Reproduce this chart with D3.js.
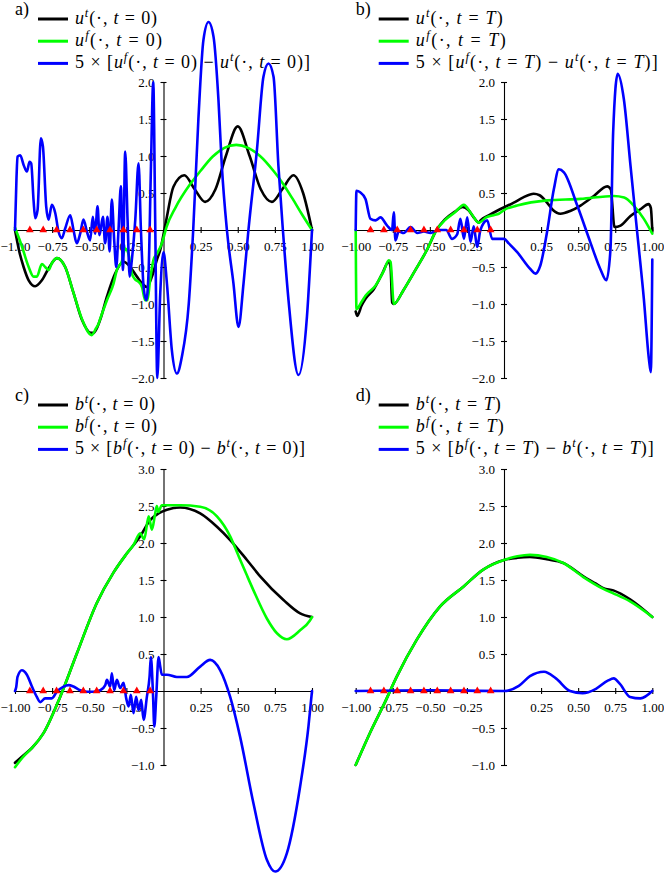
<!DOCTYPE html>
<html>
<head>
<meta charset="utf-8">
<script src="https://cdn.jsdelivr.net/npm/d3@7"></script>
<style>
body { margin: 0; background: #fff; }
</style>
</head>
<body>
<svg id="chart" width="664" height="874"></svg>
<script>
// tick values
var xTicks = [-1, -0.75, -0.5, -0.25, 0.25, 0.5, 0.75, 1];
var uTicks = [-2, -1.5, -1, -0.5, 0.5, 1, 1.5, 2];
var bTicks = [-1, -0.5, 0.5, 1, 1.5, 2, 2.5, 3];

// observation points (red triangles on y = 0)
var obsX = [-0.9, -0.81, -0.72, -0.63, -0.54, -0.45, -0.36, -0.27, -0.18, -0.09];

// a) u at t = 0
var uTrue0 = [[-1.0, 0.0], [-0.97, -0.3], [-0.942, -0.5], [-0.908, -0.68], [-0.864, -0.76], [-0.819, -0.68], [-0.774, -0.52], [-0.718, -0.38], [-0.662, -0.5], [-0.606, -0.85], [-0.55, -1.21], [-0.49, -1.39], [-0.471, -1.39], [-0.426, -1.21], [-0.381, -0.9], [-0.325, -0.585], [-0.269, -0.43], [-0.224, -0.5], [-0.179, -0.63], [-0.145, -0.72], [-0.112, -0.77], [-0.078, -0.63], [-0.044, -0.4], [-0.022, -0.27], [0.02, 0.15], [0.067, 0.585], [0.14, 0.74], [0.21, 0.55], [0.28, 0.38], [0.35, 0.55], [0.42, 1.0], [0.5, 1.4], [0.58, 1.0], [0.655, 0.55], [0.73, 0.38], [0.8, 0.55], [0.875, 0.74], [0.94, 0.5], [1.0, 0.0]];
var uFit0 = [[-1.0, 0.03], [-0.957, -0.2], [-0.908, -0.5], [-0.875, -0.63], [-0.853, -0.63], [-0.819, -0.46], [-0.797, -0.5], [-0.774, -0.54], [-0.752, -0.45], [-0.718, -0.38], [-0.662, -0.5], [-0.606, -0.85], [-0.55, -1.2], [-0.483, -1.42], [-0.455, -1.33], [-0.438, -1.27], [-0.426, -1.2], [-0.381, -0.95], [-0.336, -0.72], [-0.314, -0.54], [-0.28, -0.42], [-0.258, -0.25], [-0.235, -0.33], [-0.213, -0.59], [-0.19, -0.67], [-0.168, -0.7], [-0.145, -0.77], [-0.123, -0.95], [-0.108, -0.95], [-0.09, -0.67], [-0.067, -0.4], [-0.044, -0.32], [-0.011, -0.18], [0.022, 0.05], [0.08, 0.3], [0.18, 0.62], [0.25, 0.8], [0.33, 0.99], [0.41, 1.11], [0.49, 1.15], [0.57, 1.11], [0.65, 1.0], [0.74, 0.8], [0.8, 0.64], [0.87, 0.42], [0.93, 0.22], [1.0, 0.0]];
var uDiff0 = [[-1.0, 0.0], [-0.99, 0.7], [-0.983, 0.99], [-0.965, 1.01], [-0.942, 0.88], [-0.92, 0.79], [-0.902, 0.92], [-0.891, 0.9], [-0.875, 0.4], [-0.864, 0.16], [-0.848, 0.27], [-0.826, 1.24], [-0.812, 1.13], [-0.79, 0.32], [-0.774, 0.14], [-0.752, 0.34], [-0.729, 0.23], [-0.707, -0.02], [-0.685, -0.11], [-0.662, 0.02], [-0.628, 0.2], [-0.606, 0.0], [-0.584, -0.18], [-0.561, -0.05], [-0.539, 0.14], [-0.516, -0.02], [-0.494, -0.14], [-0.476, 0.18], [-0.461, -0.05], [-0.444, 0.32], [-0.431, -0.07], [-0.408, 0.18], [-0.393, -0.18], [-0.377, 0.18], [-0.363, -0.29], [-0.348, 0.41], [-0.332, -0.14], [-0.318, -0.5], [-0.303, 0.0], [-0.287, 0.59], [-0.273, -0.54], [-0.258, 1.06], [-0.242, 0.14], [-0.228, -0.63], [-0.213, -0.4], [-0.19, 0.14], [-0.168, 0.9], [-0.152, 0.0], [-0.134, -0.77], [-0.116, -0.95], [-0.1, -0.54], [-0.085, 0.81], [-0.069, 2.0], [-0.056, 0.14], [-0.042, -2.0], [-0.022, -0.86], [0.0, -0.3], [0.023, -0.72], [0.056, -1.62], [0.09, -1.94], [0.124, -1.71], [0.17, -1.0], [0.2, 0.0], [0.235, 1.5], [0.269, 2.57], [0.303, 2.81], [0.337, 2.61], [0.37, 1.76], [0.393, 0.86], [0.427, 0.0], [0.471, -0.72], [0.505, -1.31], [0.539, -0.72], [0.572, 0.0], [0.629, 1.08], [0.673, 2.07], [0.707, 2.25], [0.741, 2.07], [0.774, 0.86], [0.804, 0.0], [0.842, -0.95], [0.909, -1.96], [0.966, -1.17], [1.0, 0.0]];

// b) u at t = T
var uTrueT = [[-1.0, -1.1], [-0.99, -1.16], [-0.96, -1.02], [-0.934, -0.93], [-0.878, -0.8], [-0.821, -0.59], [-0.777, -0.43], [-0.765, -0.5], [-0.754, -0.98], [-0.743, -1.0], [-0.68, -0.82], [-0.6, -0.55], [-0.52, -0.27], [-0.455, 0.0], [-0.4, 0.14], [-0.33, 0.25], [-0.28, 0.31], [-0.24, 0.27], [-0.2, 0.16], [-0.17, 0.1], [-0.158, 0.13], [-0.1, 0.2], [-0.046, 0.26], [0.066, 0.37], [0.13, 0.44], [0.2, 0.49], [0.24, 0.47], [0.29, 0.37], [0.33, 0.27], [0.38, 0.22], [0.45, 0.26], [0.516, 0.33], [0.606, 0.46], [0.696, 0.59], [0.72, 0.55], [0.745, 0.04], [0.786, 0.06], [0.853, 0.19], [0.92, 0.28], [0.975, 0.35], [0.99, 0.3], [1.0, -0.01]];
var uFitT = [[-1.0, 0.0], [-0.998, -0.6], [-0.995, -1.07], [-0.96, -0.97], [-0.934, -0.89], [-0.866, -0.75], [-0.81, -0.55], [-0.777, -0.41], [-0.765, -0.43], [-0.743, -1.0], [-0.68, -0.82], [-0.6, -0.55], [-0.52, -0.27], [-0.455, 0.0], [-0.4, 0.13], [-0.33, 0.24], [-0.271, 0.34], [-0.22, 0.22], [-0.17, 0.1], [-0.12, 0.17], [-0.07, 0.2], [-0.035, 0.22], [0.0, 0.27], [0.089, 0.33], [0.29, 0.4], [0.516, 0.42], [0.74, 0.46], [0.81, 0.44], [0.875, 0.33], [0.943, 0.15], [1.0, -0.05]];
var uDiffT = [[-1.0, 0.0], [-0.995, 0.53], [-0.97, 0.51], [-0.934, 0.42], [-0.9, 0.15], [-0.867, 0.13], [-0.833, 0.17], [-0.788, 0.06], [-0.755, 0.0], [-0.743, 0.24], [-0.732, -0.14], [-0.71, -0.02], [-0.676, -0.04], [-0.63, 0.04], [-0.585, -0.04], [-0.54, -0.02], [-0.495, -0.04], [-0.44, 0.0], [-0.39, 0.0], [-0.35, -0.12], [-0.316, -0.06], [-0.294, 0.15], [-0.27, -0.12], [-0.248, 0.17], [-0.226, -0.16], [-0.204, 0.05], [-0.181, -0.23], [-0.159, 0.0], [-0.113, 0.13], [-0.08, -0.12], [-0.035, -0.12], [0.0, -0.12], [0.032, -0.18], [0.089, -0.3], [0.179, -0.53], [0.212, -0.59], [0.245, -0.48], [0.29, -0.03], [0.336, 0.55], [0.37, 0.82], [0.404, 0.78], [0.494, 0.33], [0.583, -0.17], [0.65, -0.53], [0.69, -0.68], [0.718, -0.26], [0.736, 1.32], [0.767, 2.11], [0.808, 1.77], [0.853, 0.87], [0.898, -0.03], [0.943, -0.93], [0.977, -1.74], [0.99, -1.92], [1.0, -0.4]];

// c) b at t = 0
var bTrue0 = [[-1.0, -0.97], [-0.95, -0.88], [-0.886, -0.77], [-0.808, -0.57], [-0.696, -0.08], [-0.583, 0.51], [-0.449, 1.19], [-0.337, 1.6], [-0.25, 1.85], [-0.157, 2.09], [-0.09, 2.31], [-0.034, 2.4], [0.023, 2.45], [0.112, 2.48], [0.247, 2.4], [0.36, 2.22], [0.449, 2.04], [0.562, 1.77], [0.651, 1.55], [0.808, 1.23], [0.92, 1.05], [1.0, 1.0]];
var bFit0 = [[-1.0, -1.03], [-0.95, -0.9], [-0.886, -0.77], [-0.808, -0.57], [-0.696, -0.08], [-0.583, 0.51], [-0.449, 1.19], [-0.337, 1.6], [-0.25, 1.85], [-0.2, 1.98], [-0.157, 2.13], [-0.13, 2.05], [-0.1, 2.36], [-0.078, 2.18], [-0.056, 2.4], [-0.045, 2.5], [-0.035, 2.42], [-0.011, 2.51], [0.05, 2.51], [0.112, 2.51], [0.247, 2.49], [0.36, 2.36], [0.449, 2.09], [0.5, 1.85], [0.56, 1.57], [0.606, 1.36], [0.696, 0.98], [0.764, 0.78], [0.831, 0.7], [0.92, 0.82], [0.985, 0.95], [1.0, 1.0]];
var bDiff0 = [[-1.0, 0.0], [-0.992, 0.05], [-0.983, 0.19], [-0.954, 0.28], [-0.92, 0.22], [-0.886, 0.06], [-0.853, -0.08], [-0.83, -0.15], [-0.797, -0.1], [-0.752, -0.1], [-0.718, -0.01], [-0.673, 0.06], [-0.639, 0.08], [-0.606, 0.06], [-0.561, 0.01], [-0.516, -0.01], [-0.471, -0.01], [-0.426, 0.01], [-0.392, 0.08], [-0.381, 0.15], [-0.359, 0.06], [-0.348, 0.24], [-0.332, 0.01], [-0.314, 0.15], [-0.292, 0.04], [-0.269, 0.11], [-0.251, -0.1], [-0.235, -0.21], [-0.22, -0.05], [-0.202, -0.3], [-0.184, -0.08], [-0.168, -0.26], [-0.15, -0.12], [-0.134, -0.39], [-0.112, -0.08], [-0.094, 0.19], [-0.085, 0.46], [-0.071, -0.03], [-0.062, -0.48], [-0.049, -0.08], [-0.033, 0.46], [-0.022, 0.33], [-0.011, 0.22], [0.023, 0.22], [0.09, 0.19], [0.157, 0.19], [0.247, 0.33], [0.314, 0.42], [0.382, 0.28], [0.449, -0.08], [0.516, -0.62], [0.606, -1.52], [0.696, -2.28], [0.752, -2.44], [0.831, -2.19], [0.92, -1.29], [0.976, -0.48], [1.0, 0.0]];

// d) b at t = T
var bTrueT = [[-1.0, -1.0], [-0.9, -0.55], [-0.8, -0.14], [-0.724, 0.19], [-0.589, 0.69], [-0.432, 1.14], [-0.274, 1.41], [-0.14, 1.64], [0.0, 1.77], [0.09, 1.8], [0.175, 1.81], [0.288, 1.78], [0.4, 1.73], [0.535, 1.55], [0.62, 1.45], [0.67, 1.39], [0.737, 1.36], [0.85, 1.24], [1.0, 1.0]];
var bFitT = [[-1.0, -1.0], [-0.9, -0.55], [-0.8, -0.14], [-0.724, 0.19], [-0.589, 0.69], [-0.432, 1.14], [-0.274, 1.41], [-0.14, 1.64], [0.0, 1.77], [0.09, 1.82], [0.175, 1.84], [0.288, 1.81], [0.4, 1.73], [0.535, 1.54], [0.67, 1.38], [0.737, 1.32], [0.85, 1.21], [1.0, 1.0]];
var bDiffT = [[-1.0, 0.0], [-0.5, 0.01], [0.0, 0.0], [0.1, 0.07], [0.175, 0.2], [0.27, 0.26], [0.35, 0.17], [0.445, 0.0], [0.53, -0.03], [0.62, 0.03], [0.7, 0.14], [0.74, 0.17], [0.78, 0.1], [0.85, -0.08], [0.92, -0.1], [1.0, 0.0]];

var colors = ["#000000", "#00ff00", "#0000ff"];
var serif = "'Liberation Serif', 'DejaVu Serif', serif";

var svg = d3.select("#chart");

var panels = [
    { tag: "a)", sym: "u", time: "0", left: 15, right: 312, bottom: 378, top: 82, yDomain: [-2, 2], yTicks: uTicks, legendY: 19, widths: [82, 87, 235], series: [uTrue0, uFit0, uDiff0] },
    { tag: "b)", sym: "u", time: "T", left: 355.7, right: 652.3, bottom: 378, top: 82, yDomain: [-2, 2], yTicks: uTicks, legendY: 19, widths: [87, 90, 242], series: [uTrueT, uFitT, uDiffT] },
    { tag: "c)", sym: "b", time: "0", left: 15, right: 312, bottom: 765, top: 469, yDomain: [-1, 3], yTicks: bTicks, legendY: 405, widths: [80, 82, 230], series: [bTrue0, bFit0, bDiff0] },
    { tag: "d)", sym: "b", time: "T", left: 355.7, right: 652.3, bottom: 765, top: 469, yDomain: [-1, 3], yTicks: bTicks, legendY: 405, widths: [85, 88, 238], series: [bTrueT, bFitT, bDiffT] }
];

function fieldSegs(sym, sup, time) {
    return [[sym, "i"], [sup, "s"], ["(·, ", ""], ["t", "i"], [" = ", ""], [time, time == "T" ? "i" : ""], [")", ""]];
}

function drawMath(g, x, y, segs, width) {
    var t = g.append("text")
        .attr("x", x)
        .attr("y", y)
        .attr("textLength", width)
        .attr("lengthAdjust", "spacing")
        .style("font-family", serif)
        .style("font-size", "18px")
        .style("white-space", "pre")
        .attr("fill", "#000");
    var shifted = false;
    segs.forEach(function(s) {
        var sp = t.append("tspan").text(s[0]);
        if (s[1] == "i") sp.style("font-style", "italic");
        if (s[1] == "s") {
            sp.style("font-style", "italic").style("font-size", "12.5px").attr("dy", -7);
            shifted = true;
        } else if (shifted) {
            sp.attr("dy", 7);
            shifted = false;
        }
    });
}

panels.forEach(function(p) {
    var g = svg.append("g");

    var x = d3.scaleLinear().domain([-1, 1]).range([p.left, p.right]);
    var y = d3.scaleLinear().domain(p.yDomain).range([p.bottom, p.top]);

    // axes through the origin
    var xAxis = g.append("g")
        .attr("transform", "translate(0," + y(0) + ")")
        .call(d3.axisBottom(x).tickValues(xTicks).tickSizeInner(3).tickSizeOuter(0).tickPadding(9).tickFormat(d3.format(".2f")));
    xAxis.selectAll(".tick line").attr("y1", -3);

    var yAxis = g.append("g")
        .attr("transform", "translate(" + x(0) + ",0)")
        .call(d3.axisLeft(y).tickValues(p.yTicks).tickSizeInner(3).tickSizeOuter(0).tickPadding(6).tickFormat(d3.format(".1f")));
    yAxis.selectAll(".tick line").attr("x1", 3);

    g.selectAll(".domain, .tick line").attr("stroke", "#000").attr("stroke-width", 1.1);
    g.selectAll(".tick text")
        .style("font-family", serif)
        .style("font-size", "13px")
        .attr("fill", "#000");

    var line = d3.line()
        .x(function(d) { return x(d[0]); })
        .y(function(d) { return y(d[1]); })
        .curve(d3.curveMonotoneX);

    p.series.forEach(function(s, i) {
        g.append("path")
            .datum(s)
            .attr("fill", "none")
            .attr("stroke", colors[i])
            .attr("stroke-width", 2.6)
            .attr("stroke-linejoin", "round")
            .attr("stroke-linecap", "round")
            .attr("d", line);
    });

    g.selectAll(".obs")
        .data(obsX)
        .enter().append("path")
        .attr("class", "obs")
        .attr("transform", function(d) { return "translate(" + x(d) + "," + y(0) + ")"; })
        .attr("d", d3.symbol().type(d3.symbolTriangle).size(26))
        .attr("fill", "#ff0000");

    // panel tag and legend
    g.append("text")
        .attr("x", p.left)
        .attr("y", p.legendY - 4)
        .style("font-family", serif)
        .style("font-size", "18px")
        .text(p.tag);

    var labels = [
        fieldSegs(p.sym, "t", p.time),
        fieldSegs(p.sym, "f", p.time),
        [["5 × [", ""]].concat(fieldSegs(p.sym, "f", p.time), [[" − ", ""]], fieldSegs(p.sym, "t", p.time), [["]", ""]])
    ];
    labels.forEach(function(segs, i) {
        var ly = p.legendY + i * 22.2;
        g.append("line")
            .attr("x1", p.left + 23).attr("x2", p.left + 53)
            .attr("y1", ly).attr("y2", ly)
            .attr("stroke", colors[i])
            .attr("stroke-width", 3);
        drawMath(g, p.left + 60, ly + 5, segs, p.widths[i]);
    });
});
</script>
</body>
</html>
